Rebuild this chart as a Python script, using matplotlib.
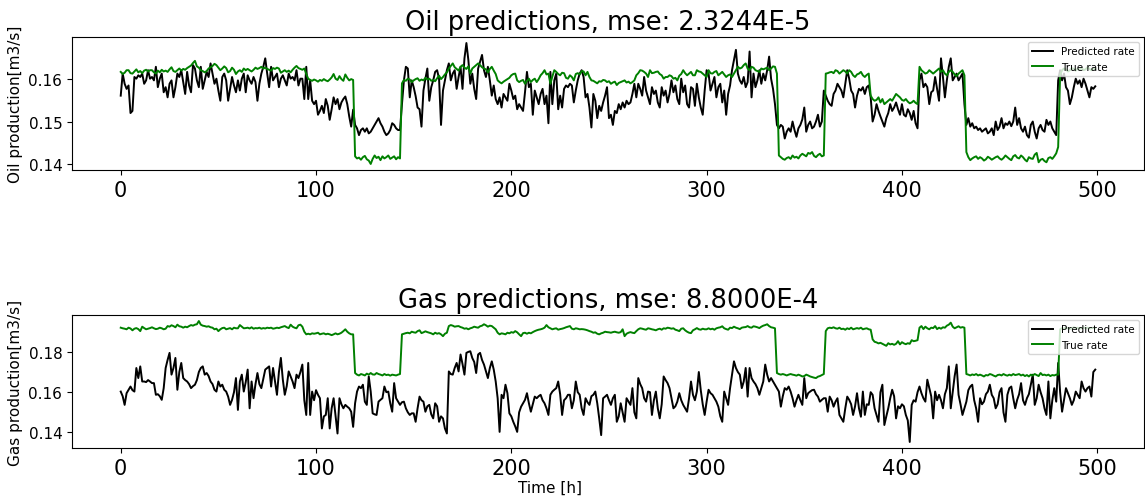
import matplotlib
matplotlib.use('Agg')
import matplotlib.pyplot as plt
import numpy as np

# values, in units of 1e-4 m3/s
oil_pred = [
    1561, 1613, 1589, 1577, 1585, 1520, 1525, 1605, 1601, 1609,
    1605, 1613, 1589, 1597, 1621, 1601, 1605, 1597, 1629, 1581,
    1601, 1613, 1569, 1581, 1557, 1589, 1597, 1557, 1581, 1613,
    1605, 1621, 1593, 1565, 1617, 1585, 1569, 1633, 1625, 1597,
    1581, 1629, 1577, 1597, 1617, 1605, 1637, 1613, 1589, 1601,
    1573, 1549, 1605, 1613, 1597, 1549, 1577, 1605, 1585, 1569,
    1597, 1573, 1601, 1613, 1569, 1609, 1597, 1589, 1605, 1593,
    1549, 1589, 1613, 1629, 1649, 1613, 1581, 1629, 1597, 1605,
    1613, 1581, 1601, 1609, 1597, 1585, 1613, 1601, 1605, 1597,
    1621, 1585, 1601, 1601, 1553, 1629, 1553, 1597, 1549, 1541,
    1549, 1516, 1525, 1537, 1520, 1553, 1537, 1504, 1529, 1557,
    1541, 1553, 1529, 1545, 1553, 1559, 1541, 1512, 1488, 1528,
    1492, 1484, 1468, 1480, 1484, 1476, 1484, 1472, 1476, 1484,
    1492, 1500, 1508, 1496, 1488, 1476, 1468, 1472, 1480, 1496,
    1492, 1484, 1480, 1480, 1541, 1597, 1629, 1625, 1557, 1597,
    1581, 1560, 1533, 1529, 1488, 1573, 1601, 1625, 1549, 1581,
    1597, 1617, 1621, 1601, 1492, 1573, 1597, 1621, 1637, 1597,
    1613, 1621, 1577, 1605, 1629, 1577, 1649, 1685, 1645, 1589,
    1613, 1577, 1553, 1625, 1641, 1657, 1621, 1605, 1629, 1597,
    1561, 1585, 1553, 1541, 1557, 1533, 1565, 1557, 1549, 1589,
    1573, 1553, 1561, 1529, 1541, 1533, 1525, 1569, 1617, 1581,
    1589, 1516, 1573, 1557, 1541, 1565, 1577, 1541, 1561, 1496,
    1617, 1541, 1597, 1613, 1529, 1561, 1533, 1577, 1585, 1581,
    1589, 1585, 1545, 1573, 1597, 1613, 1621, 1605, 1557, 1565,
    1533, 1486, 1565, 1549, 1508, 1537, 1525, 1545, 1561, 1581,
    1508, 1516, 1492, 1525, 1520, 1541, 1529, 1545, 1533, 1549,
    1541, 1545, 1565, 1589, 1557, 1589, 1577, 1561, 1605, 1573,
    1557, 1541, 1581, 1565, 1573, 1545, 1533, 1581, 1561, 1573,
    1545, 1565, 1597, 1569, 1585, 1553, 1541, 1601, 1569, 1585,
    1541, 1533, 1581, 1577, 1537, 1589, 1557, 1533, 1516, 1573,
    1621, 1613, 1573, 1589, 1605, 1557, 1581, 1589, 1545, 1573,
    1516, 1565, 1585, 1621, 1645, 1669, 1613, 1597, 1589, 1605,
    1581, 1593, 1665, 1557, 1613, 1581, 1597, 1621, 1589, 1613,
    1597, 1621, 1653, 1601, 1577, 1541, 1492, 1484, 1492, 1488,
    1460, 1476, 1484, 1476, 1500, 1480, 1464, 1484, 1492, 1505,
    1533, 1476, 1492, 1500, 1484, 1488, 1500, 1516, 1488, 1500,
    1573, 1561, 1549, 1541, 1537, 1565, 1573, 1589, 1581, 1573,
    1557, 1589, 1621, 1601, 1573, 1565, 1533, 1561, 1577, 1573,
    1581, 1565, 1581, 1585, 1557, 1500, 1516, 1541, 1525, 1512,
    1500, 1488, 1508, 1520, 1541, 1525, 1533, 1545, 1529, 1516,
    1541, 1516, 1512, 1529, 1520, 1504, 1525, 1496, 1484, 1597,
    1613, 1581, 1589, 1581, 1541, 1569, 1573, 1605, 1577, 1549,
    1649, 1605, 1557, 1597, 1629, 1649, 1597, 1605, 1613, 1597,
    1605, 1613, 1541, 1492, 1508, 1488, 1496, 1484, 1488, 1480,
    1484, 1476, 1480, 1484, 1472, 1476, 1484, 1468, 1500, 1480,
    1488, 1508, 1484, 1496, 1492, 1500, 1489, 1500, 1533, 1492,
    1508, 1484, 1476, 1488, 1468, 1462, 1492, 1500, 1476, 1460,
    1484, 1492, 1480, 1476, 1504, 1492, 1500, 1484, 1476, 1468,
    1597, 1621, 1597, 1613, 1581, 1573, 1541, 1557, 1581, 1601,
    1589, 1597, 1581, 1601, 1589, 1573, 1557, 1581, 1577, 1583,
]

oil_true = [
    1617, 1612, 1615, 1621, 1621, 1614, 1613, 1618, 1623, 1616,
    1619, 1614, 1620, 1622, 1618, 1621, 1621, 1616, 1613, 1620,
    1616, 1622, 1618, 1620, 1617, 1623, 1628, 1619, 1617, 1621,
    1625, 1620, 1624, 1622, 1626, 1629, 1632, 1638, 1643, 1630,
    1627, 1621, 1619, 1616, 1619, 1625, 1628, 1631, 1636, 1633,
    1627, 1621, 1625, 1630, 1626, 1616, 1619, 1627, 1622, 1612,
    1618, 1621, 1617, 1625, 1621, 1624, 1621, 1618, 1622, 1627,
    1624, 1626, 1629, 1625, 1627, 1624, 1622, 1620, 1626, 1624,
    1627, 1625, 1615, 1618, 1621, 1617, 1620, 1616, 1622, 1627,
    1631, 1626, 1624, 1622, 1625, 1612, 1601, 1598, 1596, 1599,
    1597, 1594, 1598, 1596, 1600, 1597, 1595, 1599, 1604, 1612,
    1601, 1598, 1607, 1600, 1596, 1611, 1603, 1597, 1600, 1598,
    1418, 1413, 1415, 1410, 1416, 1419, 1411, 1408, 1400, 1412,
    1420, 1414, 1417, 1409, 1418, 1413, 1416, 1420, 1412, 1415,
    1418, 1411, 1416, 1413, 1590, 1598, 1596, 1601, 1599, 1593,
    1597, 1600, 1602, 1596, 1599, 1597, 1603, 1599, 1601, 1596,
    1598, 1595, 1602, 1608, 1600, 1605, 1611, 1616, 1625, 1631,
    1637, 1628, 1624, 1620, 1629, 1633, 1627, 1624, 1630, 1613,
    1625, 1629, 1633, 1637, 1633, 1628, 1625, 1623, 1616, 1624,
    1629, 1620, 1612, 1597, 1593, 1590, 1594, 1597, 1600, 1603,
    1609, 1612, 1613, 1597, 1593, 1596, 1598, 1589, 1596, 1601,
    1593, 1598, 1601, 1593, 1600, 1609, 1614, 1621, 1611, 1613,
    1589, 1606, 1621, 1617, 1612, 1609, 1615, 1614, 1603, 1601,
    1609, 1605, 1597, 1612, 1614, 1611, 1619, 1618, 1609, 1617,
    1605, 1597, 1596, 1593, 1590, 1595, 1594, 1598, 1597, 1593,
    1595, 1589, 1592, 1594, 1586, 1591, 1593, 1595, 1597, 1592,
    1594, 1590, 1593, 1597, 1609, 1614, 1621, 1620, 1617, 1613,
    1605, 1621, 1614, 1615, 1617, 1618, 1612, 1609, 1601, 1605,
    1605, 1609, 1607, 1601, 1603, 1597, 1608, 1612, 1621, 1614,
    1609, 1613, 1617, 1609, 1609, 1621, 1618, 1617, 1613, 1609,
    1605, 1621, 1614, 1613, 1617, 1619, 1609, 1613, 1617, 1611,
    1605, 1609, 1611, 1605, 1613, 1621, 1629, 1625, 1627, 1633,
    1637, 1625, 1621, 1629, 1627, 1621, 1619, 1617, 1625, 1623,
    1625, 1627, 1621, 1625, 1630, 1629, 1613, 1420, 1416, 1412,
    1410, 1414, 1416, 1412, 1420, 1415, 1417, 1413, 1420, 1424,
    1421, 1418, 1426, 1424, 1428, 1419, 1416, 1421, 1424, 1418,
    1420, 1613, 1614, 1616, 1617, 1614, 1621, 1619, 1613, 1617,
    1621, 1618, 1613, 1621, 1617, 1609, 1605, 1611, 1613, 1617,
    1609, 1605, 1610, 1613, 1561, 1553, 1549, 1551, 1557, 1545,
    1553, 1541, 1545, 1549, 1553, 1549, 1557, 1565, 1561, 1557,
    1551, 1549, 1553, 1547, 1543, 1545, 1549, 1544, 1541, 1629,
    1621, 1617, 1613, 1615, 1621, 1617, 1613, 1617, 1621, 1625,
    1617, 1621, 1613, 1609, 1617, 1621, 1617, 1611, 1607, 1613,
    1617, 1621, 1609, 1428, 1416, 1409, 1413, 1416, 1418, 1412,
    1416, 1413, 1408, 1411, 1417, 1414, 1410, 1413, 1416, 1418,
    1413, 1410, 1414, 1420, 1416, 1412, 1409, 1418, 1421, 1415,
    1413, 1420, 1416, 1410, 1406, 1416, 1413, 1412, 1422, 1426,
    1404, 1410, 1412, 1407, 1404, 1414, 1416, 1412, 1418, 1425,
    1440, 1610, 1621, 1625, 1623, 1618, 1621, 1626, 1624, 1620,
    1625, 1622, 1627, 1621, 1623, 1628, 1624, 1621, 1625, 1623,
]

gas_pred = [
    1603, 1580, 1537, 1595, 1612, 1628, 1610, 1603, 1720, 1670,
    1728, 1653, 1653, 1650, 1660, 1653, 1645, 1645, 1587, 1590,
    1580, 1562, 1620, 1720, 1760, 1795, 1687, 1720, 1770, 1612,
    1700, 1745, 1670, 1660, 1653, 1640, 1620, 1630, 1637, 1660,
    1700, 1720, 1728, 1687, 1695, 1680, 1653, 1640, 1612, 1603,
    1653, 1628, 1637, 1612, 1603, 1578, 1537, 1562, 1600, 1670,
    1512, 1653, 1687, 1603, 1650, 1712, 1520, 1653, 1570, 1640,
    1695, 1640, 1620, 1665, 1712, 1720, 1728, 1628, 1720, 1653,
    1587, 1700, 1770, 1662, 1587, 1630, 1703, 1678, 1653, 1620,
    1687, 1670, 1700, 1737, 1560, 1487, 1745, 1487, 1603, 1560,
    1610, 1587, 1570, 1420, 1480, 1487, 1570, 1420, 1520, 1570,
    1480, 1395, 1570, 1540, 1520, 1537, 1528, 1520, 1503, 1428,
    1545, 1603, 1628, 1620, 1637, 1553, 1537, 1678, 1603, 1495,
    1490, 1487, 1553, 1562, 1570, 1628, 1600, 1603, 1545, 1503,
    1645, 1570, 1553, 1537, 1550, 1553, 1520, 1500, 1487, 1495,
    1495, 1453, 1520, 1578, 1560, 1553, 1503, 1530, 1537, 1490,
    1470, 1545, 1530, 1453, 1480, 1470, 1420, 1395, 1703, 1690,
    1687, 1720, 1745, 1703, 1787, 1740, 1687, 1795, 1800, 1803,
    1770, 1750, 1695, 1787, 1795, 1760, 1737, 1703, 1670, 1720,
    1753, 1712, 1653, 1570, 1403, 1587, 1570, 1637, 1595, 1495,
    1480, 1453, 1430, 1403, 1500, 1528, 1545, 1562, 1595, 1545,
    1503, 1540, 1578, 1570, 1580, 1587, 1560, 1545, 1520, 1487,
    1587, 1603, 1612, 1620, 1653, 1590, 1487, 1560, 1570, 1587,
    1587, 1520, 1560, 1653, 1600, 1587, 1520, 1487, 1570, 1550,
    1537, 1580, 1587, 1603, 1545, 1470, 1387, 1570, 1578, 1587,
    1560, 1537, 1570, 1587, 1453, 1480, 1545, 1500, 1453, 1570,
    1553, 1537, 1620, 1500, 1470, 1670, 1640, 1620, 1570, 1553,
    1603, 1600, 1487, 1560, 1603, 1520, 1470, 1540, 1678, 1660,
    1645, 1620, 1570, 1520, 1530, 1553, 1595, 1560, 1537, 1520,
    1503, 1570, 1653, 1587, 1560, 1603, 1700, 1610, 1540, 1487,
    1553, 1612, 1595, 1587, 1570, 1553, 1528, 1480, 1453, 1603,
    1570, 1537, 1620, 1687, 1753, 1720, 1700, 1687, 1620, 1653,
    1720, 1578, 1720, 1670, 1653, 1640, 1620, 1587, 1620, 1653,
    1737, 1687, 1653, 1670, 1653, 1637, 1620, 1603, 1528, 1580,
    1620, 1612, 1628, 1603, 1570, 1528, 1560, 1587, 1560, 1537,
    1670, 1570, 1595, 1603, 1610, 1612, 1590, 1578, 1553, 1562,
    1570, 1570, 1503, 1578, 1560, 1528, 1553, 1570, 1487, 1470,
    1453, 1520, 1578, 1562, 1540, 1487, 1530, 1595, 1520, 1478,
    1603, 1487, 1540, 1537, 1600, 1587, 1520, 1487, 1453, 1600,
    1637, 1437, 1480, 1520, 1570, 1612, 1580, 1470, 1530, 1520,
    1540, 1530, 1487, 1460, 1353, 1537, 1560, 1553, 1600, 1628,
    1595, 1570, 1553, 1662, 1620, 1580, 1470, 1603, 1560, 1587,
    1560, 1520, 1590, 1620, 1728, 1520, 1600, 1680, 1737, 1587,
    1540, 1487, 1520, 1553, 1610, 1628, 1637, 1560, 1520, 1453,
    1570, 1540, 1553, 1590, 1603, 1637, 1587, 1570, 1520, 1540,
    1600, 1620, 1500, 1453, 1587, 1620, 1628, 1570, 1520, 1562,
    1590, 1645, 1560, 1537, 1570, 1590, 1637, 1687, 1537, 1570,
    1637, 1600, 1570, 1520, 1487, 1653, 1470, 1560, 1620, 1553,
    1745, 1600, 1503, 1560, 1620, 1595, 1570, 1537, 1560, 1603,
    1587, 1570, 1653, 1620, 1603, 1620, 1628, 1578, 1700, 1712,
]

gas_true = [
    1920, 1917, 1915, 1912, 1920, 1916, 1907, 1915, 1918, 1913,
    1903, 1925, 1918, 1912, 1915, 1918, 1922, 1917, 1913, 1915,
    1920, 1917, 1912, 1915, 1928, 1925, 1932, 1928, 1922, 1935,
    1927, 1925, 1920, 1925, 1922, 1928, 1933, 1930, 1935, 1937,
    1953, 1935, 1930, 1928, 1925, 1927, 1922, 1920, 1912, 1915,
    1903, 1912, 1918, 1920, 1912, 1915, 1918, 1912, 1920, 1917,
    1917, 1933, 1925, 1917, 1918, 1920, 1916, 1922, 1915, 1918,
    1917, 1920, 1915, 1918, 1916, 1920, 1918, 1920, 1915, 1917,
    1920, 1918, 1922, 1925, 1928, 1922, 1918, 1935, 1925, 1920,
    1917, 1932, 1935, 1925, 1900, 1887, 1890, 1887, 1892, 1890,
    1892, 1895, 1887, 1890, 1892, 1887, 1890, 1887, 1883, 1887,
    1892, 1887, 1890, 1895, 1903, 1912, 1900, 1892, 1887, 1887,
    1695, 1687, 1683, 1690, 1687, 1683, 1692, 1687, 1695, 1688,
    1687, 1695, 1690, 1687, 1683, 1690, 1685, 1687, 1682, 1687,
    1685, 1683, 1687, 1690, 1887, 1890, 1893, 1895, 1892, 1900,
    1897, 1895, 1903, 1907, 1893, 1897, 1902, 1898, 1895, 1892,
    1887, 1895, 1890, 1893, 1887, 1878, 1890, 1895, 1928, 1933,
    1930, 1925, 1927, 1928, 1923, 1920, 1915, 1917, 1912, 1917,
    1920, 1925, 1922, 1920, 1927, 1930, 1937, 1932, 1925, 1930,
    1928, 1920, 1912, 1895, 1887, 1892, 1890, 1887, 1895, 1892,
    1898, 1895, 1903, 1897, 1887, 1878, 1893, 1895, 1890, 1895,
    1892, 1898, 1903, 1907, 1910, 1912, 1915, 1920, 1933, 1922,
    1917, 1912, 1915, 1917, 1910, 1913, 1915, 1918, 1922, 1925,
    1928, 1915, 1912, 1917, 1915, 1912, 1913, 1912, 1910, 1907,
    1903, 1900, 1895, 1897, 1890, 1887, 1892, 1895, 1900, 1898,
    1897, 1895, 1898, 1900, 1897, 1895, 1898, 1912, 1878, 1890,
    1895, 1898, 1895, 1893, 1903, 1912, 1917, 1915, 1912, 1910,
    1917, 1915, 1912, 1910, 1907, 1912, 1915, 1910, 1917, 1915,
    1920, 1918, 1915, 1917, 1910, 1907, 1903, 1915, 1917, 1907,
    1900, 1895, 1893, 1907, 1912, 1918, 1912, 1910, 1915, 1912,
    1912, 1917, 1912, 1915, 1910, 1917, 1920, 1922, 1927, 1917,
    1913, 1910, 1920, 1918, 1925, 1920, 1917, 1913, 1920, 1922,
    1923, 1928, 1922, 1920, 1927, 1925, 1922, 1918, 1925, 1930,
    1933, 1937, 1928, 1922, 1920, 1917, 1695, 1690, 1687, 1690,
    1687, 1683, 1687, 1690, 1687, 1685, 1682, 1687, 1683, 1678,
    1680, 1687, 1683, 1678, 1675, 1672, 1670, 1677, 1680, 1685,
    1690, 1903, 1917, 1920, 1918, 1922, 1917, 1915, 1920, 1913,
    1915, 1910, 1917, 1913, 1920, 1912, 1915, 1918, 1915, 1920,
    1912, 1915, 1917, 1912, 1910, 1862, 1850, 1847, 1842, 1845,
    1840, 1835, 1830, 1843, 1837, 1840, 1835, 1840, 1853, 1837,
    1848, 1842, 1838, 1843, 1840, 1858, 1853, 1855, 1858, 1920,
    1928, 1913, 1925, 1917, 1912, 1920, 1918, 1928, 1913, 1920,
    1915, 1922, 1920, 1930, 1935, 1945, 1925, 1917, 1922, 1927,
    1920, 1923, 1920, 1690, 1687, 1683, 1688, 1685, 1690, 1683,
    1687, 1683, 1678, 1685, 1683, 1690, 1687, 1682, 1678, 1685,
    1687, 1683, 1690, 1685, 1682, 1687, 1683, 1690, 1685, 1687,
    1690, 1683, 1687, 1680, 1685, 1678, 1687, 1683, 1690, 1685,
    1680, 1695, 1685, 1687, 1683, 1687, 1680, 1685, 1683, 1687,
    1687, 1912, 1918, 1915, 1920, 1917, 1913, 1918, 1922, 1917,
    1920, 1915, 1918, 1922, 1917, 1920, 1915, 1918, 1920, 1917,
]

oil_title = 'Oil predictions, mse: 2.3244E-5'
gas_title = 'Gas predictions, mse: 8.8000E-4'

t = np.arange(len(oil_pred))

fig, (ax1, ax2) = plt.subplots(2, 1, figsize=(11.45, 5.02), dpi=100)
plt.subplots_adjust(left=72/1145, right=1144/1145, top=1-38/502,
                    bottom=1-449/502, hspace=1.09)

for ax, pred, true, title, ylab in [
        (ax1, oil_pred, oil_true, oil_title, 'Oil production[m3/s]'),
        (ax2, gas_pred, gas_true, gas_title, 'Gas production[m3/s]')]:
    ax.plot(t, np.array(pred) / 1e4, color='k', lw=1.4, label='Predicted rate')
    ax.plot(t, np.array(true) / 1e4, color='g', lw=1.4, label='True rate')
    ax.set_title(title, fontsize=18.5)
    ax.set_ylabel(ylab, fontsize=11)
    ax.tick_params(axis='x', labelsize=15)
    ax.tick_params(axis='y', labelsize=11)
    ax.set_xticks([0, 100, 200, 300, 400, 500])
    ax.legend(loc='upper right', fontsize=7.5)

ax1.set_yticks([0.14, 0.15, 0.16])
ax2.set_yticks([0.14, 0.16, 0.18])
fig.text(550/1145, 1-488/502, 'Time [h]', ha='center', va='center', fontsize=11)

fig.savefig('out.png', dpi=100)
